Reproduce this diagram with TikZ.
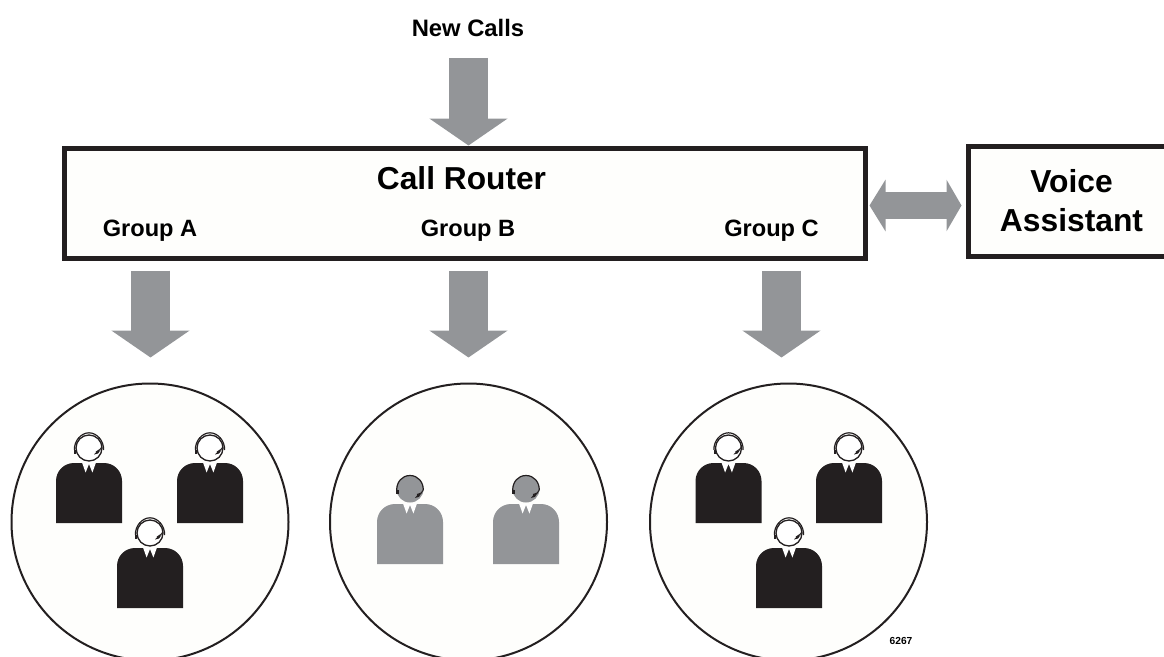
\documentclass[tikz,border=0pt]{standalone}
\usepackage{fontspec}
\setmainfont{Liberation Sans}
\usetikzlibrary{arrows.meta}
\definecolor{arrowgray}{HTML}{939598}
\definecolor{ink}{HTML}{231F20}
\definecolor{paper}{HTML}{FEFEFC}
\newcommand{\fs}[1]{\fontsize{#1}{#1}\selectfont\bfseries}
\tikzset{
  x=1pt,y=-1pt,
  boxnode/.style={draw=ink,line width=5pt,fill=paper,inner sep=0pt,outer sep=2.5pt,minimum width=#1,minimum height=110pt,anchor=north west},
  pool/.style={circle,draw=ink,line width=2pt,fill=paper,minimum size=277pt,inner sep=0pt,outer sep=1pt},
  blockarrow/.style={draw=arrowgray,line width=39pt,-{Triangle[length=27pt,width=77pt]}},
  dblarrow/.style={draw=arrowgray,line width=27pt,{Triangle[length=16pt,width=51pt]}-{Triangle[length=15pt,width=51pt]}},
  label/.style={text=black,inner sep=0pt,align=center},
  person/.pic={
    % body
    \fill[pic actions] (-33,60) -- (-33,18) .. controls (-33,8) and (-25,0) .. (-15,0)
       -- (15,0) .. controls (25,0) and (33,8) .. (33,18) -- (33,60) -- cycle;
    % collar
    \fill[white] (-7,-0.5) -- (-3.4,9.5) -- (0,1) -- (3.4,9.5) -- (7,-0.5) -- cycle;
  },
  darkperson/.pic={
    \pic[fill=ink] {person};
    \draw[ink,line width=1.3pt,fill=white] (0,-15) circle[radius=13];
    \draw[ink,line width=1.2pt] (-14.6,-13) .. controls (-15,-22) and (-8,-30.2) .. (0,-30.2) .. controls (8,-30.2) and (15,-22) .. (14.6,-13);
    \draw[ink,line width=1pt] (13,-18) .. controls (13,-14) and (10,-13) .. (7,-11);
    \fill[ink] (5,-8.5) .. controls (6,-11) and (9,-12.5) .. (11.5,-13) .. controls (10.5,-10) and (8,-8) .. (5,-8.5);
    \fill[ink] (-15,-13) rectangle (-13,-9);
  },
  lightperson/.pic={
    \pic[fill=arrowgray] {person};
    \fill[arrowgray] (0,-15) circle[radius=13.5];
    \draw[ink,line width=1.2pt] (-13.3,-14) .. controls (-13.3,-22) and (-8,-28.5) .. (0,-28.5) .. controls (8,-28.5) and (13.3,-22) .. (13.3,-14);
    \draw[ink,line width=1pt] (13.3,-14) .. controls (13,-11) and (10,-10.5) .. (7,-9.5);
    \fill[ink] (5,-6) .. controls (6,-9) and (9,-10.5) .. (11.5,-11) .. controls (10.5,-8) and (8,-5.5) .. (5,-6);
    \fill[ink] (-14.5,-14.5) rectangle (-11.5,-10.5);
  }
}
\begin{document}
\begin{tikzpicture}
\useasboundingbox (0,0) rectangle (1164,656);
\clip (0,0) rectangle (1164,656);

\node[pool] (poolA) at (150,522) {};
\node[pool] (poolB) at (468.5,522) {};
\node[pool] (poolC) at (788.5,522) {};

\node[boxnode=801pt] (router) at (61.5,145.5) {};
\node[boxnode=220pt] (voice) at (965.5,143.5) {};

\node[label,font=\fs{23.8}] (newcalls) at (468,28) {New Calls};
\node[label,font=\fs{31.7}] (routertitle) at (461.5,178) {Call Router};
\node[label,font=\fs{23.6}] (groupA) at (150,231) {Group A};
\node[label,font=\fs{23.6}] (groupB) at (468,231) {Group B};
\node[label,font=\fs{23.6}] (groupC) at (771.5,231) {Group C};
\node[label,font=\fs{31.8}] (voicetext) at (1071.5,201) {Voice\\[7pt]Assistant};
\node[label,font=\fs{10.2}] (code) at (901,641) {6267};

\coordinate (midy) at (0,205.5);
\coordinate (colC) at (781.5,0);
\coordinate (colA) at (150.5,0);
\coordinate (colB) at (468.5,0);

\draw[blockarrow,shorten <=21pt,shorten >=0pt] (newcalls.south -| colB) -- (router.north -| colB);
\draw[blockarrow,shorten <=10pt,shorten >=25pt] (router.south -| colA) -- (poolA.north -| colA);
\draw[blockarrow,shorten <=10pt,shorten >=25pt] (router.south -| colB) -- (poolB.north -| colB);
\draw[blockarrow,shorten <=10pt,shorten >=25pt] (router.south -| colC) -- (poolC.north -| colC);
\draw[dblarrow,shorten <=2pt,shorten >=4pt] (router.east |- midy) -- (voice.west |- midy);

\pic at (89,463) {darkperson};
\pic at (210,463) {darkperson};
\pic at (150,548) {darkperson};

\pic at (410,504) {lightperson};
\pic at (526,504) {lightperson};

\pic at (728.5,463) {darkperson};
\pic at (849,463) {darkperson};
\pic at (789,548) {darkperson};
\end{tikzpicture}
\end{document}
